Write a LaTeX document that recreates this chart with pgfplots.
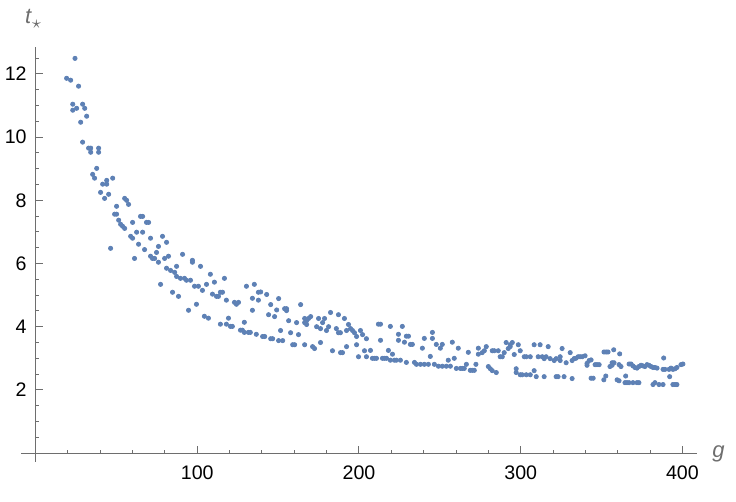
\documentclass[border=0pt]{standalone}
\usepackage{fontspec}
\setmainfont{Liberation Sans}
\usepackage{pgfplots}
\pgfplotsset{compat=1.18}
\definecolor{mmablue}{HTML}{5E81B5}
\definecolor{axgray}{HTML}{6E6E6E}
\begin{document}
\begin{tikzpicture}
\begin{axis}[
  name=ax,
  scale only axis, width=338pt, height=207.5pt,
  axis lines=middle, axis line style={-, axgray, line width=0.6pt},
  xmin=-9, xmax=409, ymin=-0.28, ymax=12.85,
  xtick={100,200,300,400},
  minor xtick={20,40,60,80,120,140,160,180,220,240,260,280,320,340,360,380},
  ytick={2,4,6,8,10,12},
  minor ytick={0.5,1,1.5,2.5,3,3.5,4.5,5,5.5,6.5,7,7.5,8.5,9,9.5,10.5,11,11.5,12.5},
  tick align=inside,
  major tick length=3.5pt, minor tick length=1.8pt,
  every tick/.style={axgray, line width=0.5pt},
  tick label style={font=\fontsize{9.8}{12}\selectfont, black, inner sep=0pt},
  xticklabel style={anchor=north, yshift=-6.3pt},
  yticklabel style={anchor=east, xshift=-4.3pt},
  /pgf/number format/assume math mode=true,
  xlabel={\textit{g}},
  ylabel={\textit{t}\raisebox{-0.45ex}{\fontsize{9}{10}\selectfont$\star$}},
  xlabel style={at={(axis cs:409,0)}, anchor=base west, inner sep=0pt,
    xshift=7.5pt, yshift=-2.2pt, font=\fontsize{11}{13}\selectfont, color=axgray},
  ylabel style={at={(axis description cs:0.018,1)}, anchor=center, rotate=0,
    yshift=14pt, inner sep=0pt, font=\fontsize{11}{13}\selectfont, color=axgray},
]
\addplot[only marks, mark=*, mark size=1.05pt, color=mmablue] table {
g t
19.2 11.86
21.7 11.80
23.0 11.04
23.0 10.85
24.4 12.49
25.4 10.91
26.6 11.61
27.9 10.47
29.1 11.04
29.1 9.84
30.4 10.91
31.6 10.66
32.8 9.65
34.1 9.65
34.1 9.52
35.3 8.82
36.5 8.70
37.8 9.01
39.0 9.65
39.0 9.52
40.2 8.25
41.5 8.51
42.7 8.06
44.0 8.63
44.0 8.51
45.2 8.19
46.4 6.48
47.7 8.70
48.9 7.56
50.1 7.56
50.1 7.81
51.4 7.37
52.6 7.24
53.8 7.18
55.1 7.11
55.1 8.06
56.3 8.00
57.5 7.87
58.8 6.86
60.0 6.80
60.0 7.30
61.2 6.16
62.5 6.99
63.7 6.61
64.9 7.49
66.2 7.49
66.2 6.99
67.4 6.44
68.6 7.30
69.9 7.30
71.1 6.80
71.1 6.23
72.3 6.16
73.6 6.16
74.8 6.35
76.0 6.54
76.0 6.04
77.3 5.34
78.5 6.86
79.8 6.16
81.0 6.67
81.0 5.85
82.2 6.23
83.5 5.78
84.7 5.09
86.0 5.72
87.2 5.91
87.2 5.59
88.4 4.96
89.6 5.53
90.9 6.29
92.1 5.53
93.3 5.47
94.6 4.52
95.8 5.47
97.0 6.10
97.0 6.04
98.3 5.28
99.5 4.71
100.7 5.28
102.0 5.91
103.2 5.15
104.4 4.33
105.7 5.34
106.9 4.27
108.1 5.66
109.4 5.03
110.6 5.41
111.9 4.96
113.1 4.96
114.3 5.09
114.3 4.08
115.6 5.09
116.8 5.53
118.0 4.84
118.0 4.08
119.3 4.27
120.5 4.01
121.7 4.01
123.0 4.77
124.2 4.71
125.5 4.77
126.7 3.89
127.9 3.89
129.1 3.82
129.1 4.14
130.4 5.28
131.6 3.82
132.8 3.82
134.1 4.90
134.1 4.52
135.3 5.34
136.5 3.76
137.8 5.09
137.8 4.84
139.2 5.10
140.4 3.69
141.7 3.69
142.9 5.02
144.1 4.38
145.4 4.70
145.4 3.62
146.6 3.62
147.8 4.32
149.1 4.53
150.3 4.89
150.3 3.56
151.5 3.88
152.8 3.56
154.0 4.57
155.2 4.57
155.2 4.51
156.5 4.19
157.7 3.81
159.0 3.43
160.2 3.43
161.4 4.13
162.6 3.75
163.9 4.70
166.4 4.26
166.4 4.13
166.4 3.43
167.6 4.19
167.6 4.07
168.8 4.26
170.1 4.32
171.3 3.37
172.5 3.31
173.8 4.00
175.0 4.26
176.2 3.94
176.2 3.50
177.5 4.13
178.7 4.26
179.9 3.88
181.2 4.00
182.4 4.45
183.6 3.24
186.0 3.94
187.3 4.38
187.3 3.81
188.5 3.81
188.6 3.18
189.8 3.18
191.0 4.26
192.3 3.88
192.3 3.37
193.5 4.07
194.8 3.94
196.0 3.88
197.2 3.81
198.5 3.69
198.5 3.43
199.7 3.05
200.9 3.88
202.2 3.75
203.4 3.24
204.6 3.62
204.6 3.05
207.1 3.25
208.3 3.00
209.6 3.00
210.8 3.00
212.0 4.08
213.3 4.08
213.3 3.57
214.5 3.00
215.7 3.00
217.0 3.00
218.2 3.25
219.4 4.01
219.4 2.94
220.7 3.13
221.9 2.94
223.1 2.94
224.4 3.76
224.4 3.57
225.6 2.94
226.8 4.01
228.1 3.51
229.3 3.70
229.3 2.87
230.6 3.70
231.8 3.44
233.0 3.44
234.3 2.87
235.5 2.81
238.0 2.81
239.2 3.32
240.4 3.63
240.4 2.81
242.9 2.81
244.1 3.06
245.4 3.82
245.4 3.63
246.6 2.81
247.8 3.44
249.1 2.75
250.3 3.32
251.5 3.44
251.5 2.75
254.0 2.75
255.2 2.94
256.5 2.75
257.7 3.51
258.9 3.00
260.2 2.68
261.4 3.32
262.7 2.68
263.9 2.68
265.1 2.68
266.4 2.81
267.6 3.19
268.8 2.62
270.1 2.62
271.3 2.62
272.3 2.81
273.8 3.32
273.8 3.13
276.2 3.18
277.5 3.24
278.7 3.37
280.0 2.74
281.2 2.67
282.4 3.24
282.4 2.61
283.6 3.24
284.9 2.55
286.1 3.24
287.3 3.05
288.6 3.05
289.8 3.18
291.0 3.50
292.3 3.31
293.5 3.37
293.5 3.43
294.8 3.50
296.0 3.12
297.2 2.67
297.2 2.55
298.5 3.43
299.7 3.24
299.7 2.48
300.9 2.48
302.2 3.05
303.4 3.05
303.4 2.48
305.9 3.05
305.9 2.48
308.3 3.43
308.3 2.61
309.6 2.42
310.8 3.05
312.0 3.43
313.3 3.05
314.5 2.99
314.5 2.42
315.7 3.05
317.0 3.37
318.2 2.99
320.7 2.93
321.9 2.99
321.9 2.42
323.1 2.42
324.4 3.05
324.4 2.93
325.6 3.31
326.8 2.42
328.1 2.86
330.6 3.18
331.8 2.93
331.8 2.36
333.0 2.99
334.1 3.00
335.5 3.05
336.7 3.05
338.0 3.05
339.8 3.08
341.0 2.84
341.0 2.78
342.3 2.93
343.5 2.95
343.5 2.37
344.8 2.37
346.0 2.80
347.2 2.80
348.5 2.80
351.5 3.20
351.4 2.32
352.6 2.44
352.8 3.20
354.0 3.20
355.2 2.74
356.5 2.86
356.5 2.78
357.5 3.27
357.7 2.86
359.6 2.32
360.8 2.80
360.8 2.29
361.2 3.14
362.0 2.74
364.5 2.23
364.9 2.44
365.7 2.23
367.0 2.82
367.0 2.23
368.2 2.82
369.4 2.76
369.4 2.23
370.6 2.71
371.9 2.69
371.9 2.23
373.1 2.74
373.1 2.23
374.4 2.78
375.6 2.76
376.8 2.74
378.1 2.80
379.3 2.78
380.6 2.74
381.8 2.71
381.8 2.17
383.0 2.71
383.0 2.23
384.3 2.69
385.5 2.17
388.0 2.65
388.0 2.17
388.4 3.01
389.2 2.65
391.7 2.65
392.1 2.42
392.9 2.69
394.1 2.65
394.1 2.17
395.4 2.67
395.4 2.17
396.6 2.71
396.6 2.17
399.1 2.80
400.3 2.82
};
\end{axis}
\path (ax.south west) ++(-10.5pt,-20pt) rectangle ++(368pt,251pt);
\end{tikzpicture}
\end{document}
